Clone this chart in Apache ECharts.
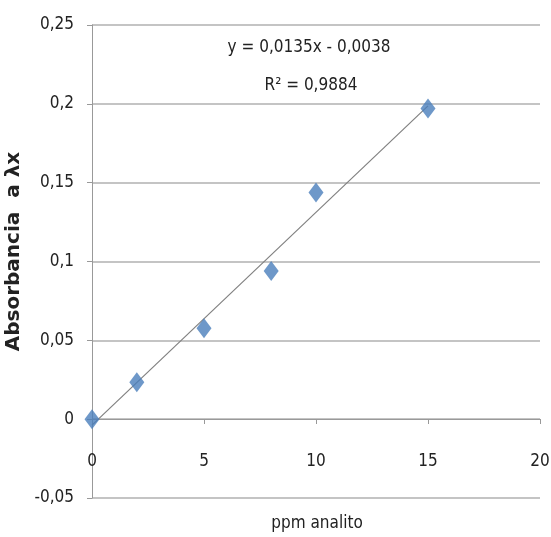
<!DOCTYPE html>
<html>
<head>
<meta charset="utf-8">
<script src="https://cdn.jsdelivr.net/npm/echarts@6/dist/echarts.min.js"></script>
<style>
  html, body { margin: 0; padding: 0; background: #fff; }
  #chart { width: 551px; height: 537px; }
</style>
</head>
<body>
<div id="chart"></div>
<script>
// measured points
var ppm = [0, 2, 5, 8, 10, 15];
var absorbance = [0, 0.0234, 0.0576, 0.094, 0.1437, 0.197];
// linear trendline shown on the chart
var slope = 0.0135;
var intercept = -0.0038;
var trendX = [0, 15];

var font = "'DejaVu Sans Condensed', sans-serif";
var fmt = function (v) { return String(+v.toFixed(2)).replace(".", ","); };

var chart = echarts.init(document.getElementById("chart"));
chart.setOption({
  animation: false,
  grid: { left: 92, right: 11, top: 25, bottom: 39, outerBoundsMode: "none", containLabel: false },
  xAxis: {
    type: "value",
    min: 0,
    max: 20,
    interval: 5,
    // axis sits on y = 0 (one 0.05 step above the bottom)
    offset: -79,
    axisLine: { onZero: false, lineStyle: { color: "#999" } },
    axisTick: { show: true, inside: false, length: 5, lineStyle: { color: "#999" } },
    axisLabel: { fontFamily: font, fontSize: 17, color: "#222", margin: 34 },
    splitLine: { show: false }
  },
  yAxis: {
    type: "value",
    min: -0.05,
    max: 0.25,
    interval: 0.05,
    name: "Absorbancia  a λx",
    nameLocation: "middle",
    nameGap: 60,
    nameTextStyle: {
      fontFamily: "'DejaVu Sans', sans-serif", fontWeight: "bold", fontSize: 20, color: "#222",
      padding: [0, 0, 0, 20]
    },
    axisLine: { show: true, onZero: false, lineStyle: { color: "#999" } },
    axisTick: { show: true, length: 5, lineStyle: { color: "#999" } },
    axisLabel: { fontFamily: font, fontSize: 17, color: "#222", margin: 18, formatter: fmt },
    splitLine: { show: true, lineStyle: { color: "#b0b0b0", width: 1.5 } }
  },
  graphic: [
    {
      type: "text",
      x: 309,
      y: 48,
      style: { text: "y = 0,0135x - 0,0038", fontFamily: font, fontSize: 17, fill: "#222", align: "center", verticalAlign: "middle" }
    },
    {
      type: "text",
      x: 311,
      y: 86,
      style: { text: "R² = 0,9884", fontFamily: font, fontSize: 17, fill: "#222", align: "center", verticalAlign: "middle" }
    },
    {
      type: "text",
      x: 317,
      y: 524,
      style: { text: "ppm analito", fontFamily: font, fontSize: 17, fill: "#222", align: "center", verticalAlign: "middle" }
    }
  ],
  series: [
    {
      type: "line",
      data: trendX.map(function (x) { return [x, slope * x + intercept]; }),
      symbol: "none",
      lineStyle: { color: "#808080", width: 1.2 },
      z: 3
    },
    {
      type: "scatter",
      data: ppm.map(function (x, i) { return [x, absorbance[i]]; }),
      symbol: "diamond",
      symbolSize: [15, 20],
      itemStyle: { color: "#4a7ebb" },
      z: 4
    }
  ]
});
</script>
</body>
</html>
